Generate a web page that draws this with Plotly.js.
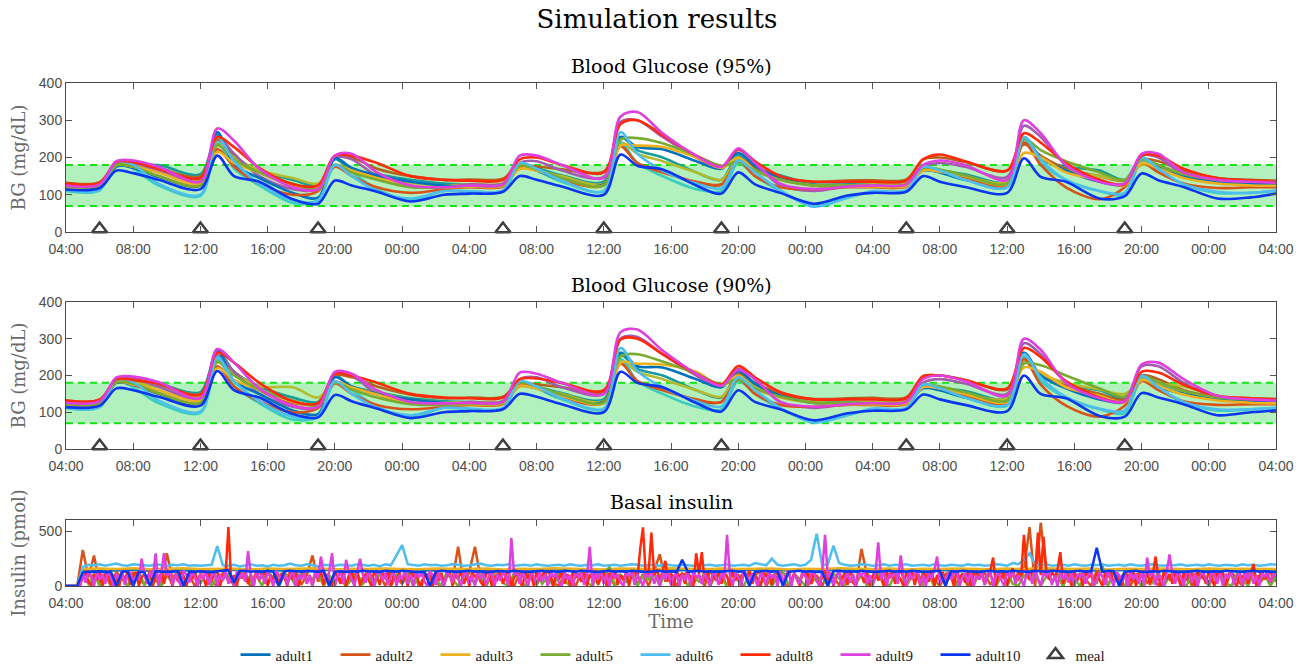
<!DOCTYPE html>
<html><head><meta charset="utf-8">
<script src="https://cdn.plot.ly/plotly-3.0.1.min.js"></script>
<style>html,body{margin:0;padding:0;background:#fff}#chart{width:1306px;height:667px}</style>
</head><body><div id="chart"></div>
<script>
// ---------- time axis ----------
const tickHours = [0,4,8,12,16,20,24,28,32,36,40,44,48,52,56,60,64,68,72];
const tickLabels = ['04:00','08:00','12:00','16:00','20:00','00:00','04:00','08:00','12:00','16:00','20:00','00:00','04:00','08:00','12:00','16:00','20:00','00:00','04:00'];

// BG sample times (hours after 04:00 of day 1)
const bgHours = [0,2,3,4,5.5,8,9,10,11.5,13.5,15,16,17,18.5,20.5,22.5,
  24,26,27,28,29.5,32,33,34,35.5,37.5,39,40,41,42.5,44.5,46.5,
  48,50,51,52,53.5,56,57,58,59.5,61.5,63,64,65,66.5,68.5,70.5,72];

// meals
const mealHours = [2,8,15,26,32,39,50,56,63];
const targetRange = [70,180];

// ---------- Blood Glucose (95%) ----------
const bg95_teal   = [122,124,175,178,180,155,262,200,165,140,125,195,165,155,140,130, 128,130,182,172,152,135,255,220,200,160,140,205,170,152,128,128, 128,130,170,165,155,135,250,195,175,165,140,200,175,150,135,130,128];
const bg95_brown  = [132,134,185,185,172,150,248,205,160,128,125,205,200,170,150,140, 141,143,178,176,168,162,230,185,165,132,127,195,175,145,135,138, 139,141,195,200,188,165,235,205,170,150,138,195,190,165,145,140,138];
const bg95_olive  = [126,128,182,178,165,140,230,200,165,145,130,178,165,150,132,125, 128,130,170,165,150,130,240,210,190,160,140,195,165,140,125,125, 128,130,168,165,150,135,240,200,165,150,140,180,170,150,135,130,128];
const bg95_purple = [125,128,183,185,165,135,255,210,150,115,115,200,195,150,122,120, 128,130,185,190,165,148,295,300,255,200,170,220,185,125,110,122, 124,126,175,185,175,148,285,255,180,138,130,205,200,155,138,130,130];
const bg95_turq   = [110,112,185,170,125,97,240,170,125,78,85,180,160,115,85,110, 108,110,180,165,135,110,240,185,150,115,110,185,150,110,72,92, 108,110,175,160,140,120,250,185,140,110,100,190,165,128,105,105,110];
const bg95_adult1 = [118,120,178,172,148,125,268,180,145,105,92,198,172,152,135,125, 122,124,172,165,140,128,255,228,222,190,170,212,178,145,125,122, 122,124,165,160,140,128,255,200,165,135,128,200,170,150,135,130,128];
const bg95_adult2 = [125,128,180,175,150,125,222,175,130,100,110,175,150,120,105,115, 120,122,175,168,140,125,230,185,160,135,128,190,150,120,115,120, 120,122,170,165,145,125,240,180,120,88,120,185,160,130,118,120,120];
const bg95_adult3 = [120,124,180,175,160,130,215,185,160,125,120,180,165,145,125,120, 122,124,170,165,145,125,232,232,228,200,172,200,165,140,125,122, 122,124,165,162,150,128,212,200,160,140,125,185,170,145,130,125,124];
const bg95_adult5 = [122,125,180,175,150,125,235,195,160,130,115,180,160,140,120,120, 124,126,178,168,145,125,248,252,238,205,178,188,165,140,125,125, 125,128,172,168,152,130,250,220,190,160,140,195,180,155,140,135,135];
const bg95_adult6 = [112,114,190,180,130,100,255,190,130,85,85,180,150,110,90,110, 110,112,185,170,138,110,268,210,165,130,118,192,160,112,68,92, 110,112,175,165,140,120,255,195,140,110,105,200,170,128,108,105,112];
const bg95_adult8 = [130,132,188,188,170,145,255,228,172,128,125,205,205,185,150,140, 138,140,195,200,180,160,290,300,260,205,175,222,190,150,135,135, 135,138,195,208,190,165,265,240,185,140,128,205,205,170,145,138,135];
const bg95_adult9 = [125,128,190,192,175,135,278,245,170,120,115,205,210,160,125,120, 125,128,205,205,180,145,310,322,265,205,175,225,185,130,115,122, 125,128,180,192,180,140,300,265,180,135,130,210,210,160,140,135,132];
const bg95_adult10= [114,118,165,158,140,115,205,150,135,88,76,138,125,108,82,100, 103,108,150,140,122,100,208,178,168,125,103,160,128,105,76,98, 105,108,150,135,121,105,198,148,135,90,96,157,139,121,90,93,103];

// ---------- Blood Glucose (90%) ----------
const bg90_teal   = [122,124,188,185,178,155,268,210,170,140,128,200,170,155,138,130, 128,130,182,170,152,135,255,218,200,160,140,205,170,152,130,128, 128,130,172,165,158,138,262,200,175,160,138,198,175,150,135,130,128];
const bg90_brown  = [132,134,188,185,175,150,245,210,160,125,125,200,195,170,148,138, 140,142,180,176,168,155,235,185,165,132,128,205,180,150,136,138, 139,141,198,200,188,162,240,205,175,150,135,200,190,160,142,138,136];
const bg90_olive  = [126,128,182,180,168,142,235,205,170,168,140,182,168,152,135,126, 128,130,170,165,150,130,240,210,190,160,142,195,168,142,128,126, 128,130,170,166,152,138,240,205,180,162,150,185,178,170,145,132,130];
const bg90_purple = [126,129,188,192,170,138,255,210,150,115,112,205,200,150,125,122, 128,130,190,195,168,150,300,305,258,200,170,218,190,128,112,122, 124,126,180,190,178,150,288,258,182,140,132,225,225,180,140,132,130];
const bg90_turq   = [112,114,185,168,125,98,245,172,125,80,88,180,160,115,88,112, 108,110,180,165,135,108,245,185,150,115,108,185,150,110,74,92, 108,110,175,160,140,118,250,185,140,108,98,190,165,125,105,108,112];
const bg90_adult1 = [118,120,180,175,150,126,270,185,150,105,95,195,170,150,135,125, 122,124,172,165,140,128,262,225,222,190,168,212,178,145,125,122, 122,124,165,160,140,128,262,200,165,135,128,200,170,150,135,130,128];
const bg90_adult2 = [125,128,182,175,152,125,225,170,130,100,112,178,150,120,108,115, 120,122,175,168,140,125,232,185,160,135,128,190,150,120,115,120, 120,122,170,165,145,125,245,175,118,88,118,185,160,130,120,122,122];
const bg90_adult3 = [120,124,182,176,160,132,220,188,162,128,122,182,168,148,126,120, 122,124,172,165,145,125,235,232,230,210,172,200,165,140,126,122, 122,124,168,165,150,128,222,210,168,145,128,188,172,148,132,126,124];
const bg90_adult5 = [122,125,182,178,152,126,238,200,162,132,118,180,162,140,122,120, 124,126,180,170,148,126,252,258,238,205,176,190,165,142,126,125, 125,128,175,170,155,132,232,228,200,165,142,198,182,158,140,135,135];
const bg90_adult6 = [112,114,190,182,132,102,250,185,130,88,88,185,150,112,92,112, 110,112,185,170,138,110,275,212,168,130,116,195,160,112,72,92, 110,112,175,165,140,120,258,195,142,110,105,200,168,128,108,108,112];
const bg90_adult8 = [132,134,190,188,178,148,262,235,180,130,125,205,200,180,150,140, 138,140,190,192,180,160,298,300,258,205,176,226,195,155,135,135, 135,138,198,200,188,165,275,250,185,140,130,210,208,175,145,138,135];
const bg90_adult9 = [126,130,195,197,182,138,272,235,165,118,115,210,205,160,128,124, 126,129,208,205,180,150,318,325,268,205,172,215,190,128,115,122, 125,128,190,200,185,145,300,270,180,138,130,230,235,190,145,135,132];
const bg90_adult10= [114,118,165,160,142,118,212,160,140,95,86,147,130,110,84,100, 103,108,150,142,122,100,210,180,168,125,102,160,128,108,78,97, 104,108,148,135,120,103,200,150,138,90,88,152,140,122,92,100,105];

// ---------- Basal insulin (pmol) ----------
const insStepHours = 1/3;      // 20-minute samples
const insFineStepHours = 1/6;  // 10-minute samples (adult8, adult9)
const insHourlyStart = 1;      // hourly samples for adult1 / adult3 start at 05:00
const ins_adult1 = [140,145,142,148,140,146,143,145,140,148,144,142,146,140,145,148,142,144,140,146,143,145,141,147,142,145,140,148,143,146,141,145,142,147,140,144,146,142,145,140,148,143,145,141,146,142,144,147,140,145,143,146,141,145,148,142,144,140,146,143,145,141,147,142,145,140,144,146,142,145,143,144];
const ins_adult3 = [155,160,157,162,154,159,163,156,160,158,153,161,156,159,163,152,158,155,161,157,153,160,158,155,161,152,158,156,162,158,155,151,160,158,155,162,158,153,160,155,158,161,152,158,155,162,158,155,160,152,158,155,161,158,153,160,155,162,158,155,160,152,158,155,161,158,153,160,155,158,160,156];
const ins_adult2 = [0,0,0,330,80,280,20,110,0,130, 60,0,120,90,10,140,50,0,300,70, 130,20,100,0,110,140,40,0,120,80, 10,130,60,0,140,100,20,90,0,120,
 70,140,10,100,280,40,130,0,110,60, 0,120,90,20,140,50,110,0,130,70, 20,100,140,0,90,120,30,0,110,60, 360,20,130,360,70,0,110,140,40,90,
 0,120,60,130,10,100,140,30,0,110, 80,0,130,50,120,10,140,90,0,100, 60,130,20,110,0,140,290,40,120,0, 90,130,20,100,0,140,60,110,0,120,
 50,130,10,100,140,0,90,120,30,0, 110,60,140,20,100,0,130,80,10,120, 60,0,340,100,20,130,0,110,70,140, 0,90,120,30,140,60,0,110,130,20,
 100,0,140,70,120,10,90,130,0,110, 60,140,540,0,580,120,40,100,0,130, 20,110,60,0,140,90,10,120,50,130, 0,100,140,30,90,0,120,60,130,10,
 110,0,140,70,20,120,90,0,130,60, 0,110,140,20,90,120,40];
const ins_adult5 = [0,0,0,90,20,110,0,70,120,30, 100,0,80,130,10,60,110,0,90,40, 120,0,70,100,20,130,0,90,60,110, 0,80,120,30,100,0,150,60,10,110,
 90,0,120,40,70,110,0,100,30,130, 0,60,110,20,90,0,120,70,0,100, 40,120,0,90,110,20,70,0,130,60, 0,100,80,20,120,0,90,110,30,0,
 120,60,0,100,140,20,80,0,110,50, 0,90,120,30,0,110,70,180,0,100, 40,120,0,90,60,110,0,130,20,80, 110,0,90,40,120,0,100,70,0,130,
 60,0,110,90,20,120,0,80,130,10, 100,60,0,120,40,90,0,110,70,0, 130,20,100,0,90,120,30,0,110,60, 0,120,80,10,100,0,130,50,90,0,
 110,40,0,120,70,100,0,90,130,20, 0,100,60,120,0,90,40,110,0,130, 70,0,100,120,20,190,0,110,60,0, 120,80,0,100,30,130,0,90,110,20,
 0,120,60,100,0,90,130,30,0,110, 80,0,120,60,100,0,90];
const ins_adult6 = [0,0,0,175,195,190,200,185,195,205, 190,185,200,195,190,185,200,190,185,195, 190,200,185,190,185,190,195,365,190,185, 195,180,190,200,185,190,180,195,185,190,
 205,190,185,200,190,180,195,190,185,195, 190,185,200,190,185,195,180,200,190,280, 375,200,190,185,200,190,195,185,190,200, 195,185,190,200,205,190,185,195,190,200,
 185,190,195,185,200,190,185,190,195,185, 200,190,185,195,190,200,185,190,195,185, 190,200,195,185,190,195,185,200,190,185, 195,190,185,200,190,195,185,190,200,185,
 190,195,185,210,200,190,250,195,185,190, 200,185,195,240,480,190,200,370,210,195, 185,190,200,195,185,190,200,185,195,190, 200,185,190,195,185,200,190,185,195,190,
 185,200,190,195,185,190,200,195,185,210, 200,240,300,195,190,200,185,190,195,185, 200,190,185,195,190,200,185,190,195,185, 200,190,185,195,200,190,185,195,190,200,
 185,190,195,185,200,190,185,195,190,185, 200,190,195,185,190,200,195];
const ins_adult8 = [0,0,0,0,0,0,80,120,40,0, 110,60,130,0,90,140,20,100,70,0, 120,50,140,10,90,130,0,80,110,30, 140,0,100,60,120,20,150,70,0,110,
 40,130,90,0,120,60,140,10,100,80, 0,130,50,110,140,0,90,120,540,30, 100,0,140,70,120,20,110,0,130,60, 90,140,0,100,50,130,10,120,80,0,
 140,60,110,0,90,130,30,100,0,120, 70,140,10,110,50,0,130,90,20,140, 0,100,120,40,140,0,80,110,60,0, 130,90,10,120,70,140,0,100,50,130,
 20,110,0,140,80,120,30,0,130,60, 100,0,140,50,120,10,90,130,0,110, 60,140,20,100,0,130,80,120,40,0, 110,140,0,90,60,130,20,100,140,0,
 80,120,30,0,140,70,110,0,130,50, 100,140,10,90,0,120,60,130,20,110, 0,140,80,100,40,130,0,110,60,140, 20,90,130,0,120,70,140,10,100,50,
 130,0,110,140,60,340,537,90,120,490, 100,150,60,130,230,40,110,0,140,80, 120,20,130,70,0,300,110,310,40,140, 0,100,60,130,20,120,90,0,140,50,
 110,0,130,80,140,20,100,60,0,120, 90,140,10,110,50,130,0,100,140,30, 120,60,0,140,90,110,20,130,70,0, 100,140,40,120,0,90,130,60,110,10,
 140,80,0,120,100,30,130,0,90,140, 50,110,0,130,70,140,20,100,60,0, 120,90,140,10,110,0,130,80,40,140, 0,100,60,130,20,120,90,0,140,70,
 110,30,130,0,100,140,60,120,10,90, 140,260,0,110,70,130,20,100,160,40, 130,90,470,150,60,140,120,490,100,450, 140,60,130,80,150,310,20,120,90,0,
 130,50,110,0,140,80,100,20,130,60, 0,120,90,140,10,110,60,0,130,100, 40,140,0,90,120,60,130,10,100,270, 80,0,140,60,110,20,130,90,0,120,
 50,140,100,0,130,70,110,20,140,60, 0,120,90,130,10,100,140,40,0,110, 70,130,20,120,200,0,90,140,60,110, 30,130,80];
const ins_adult9 = [0,0,0,0,0,0,120,30,140,90, 0,130,60,110,20,140,80,0,120,50, 140,10,100,130,0,90,60,250,110,20, 130,70,300,0,120,300,90,140,10,110,
 60,0,140,100,30,130,80,0,120,60, 140,10,90,130,0,110,50,140,20,100, 0,130,70,120,40,320,90,0,140,60, 110,20,130,80,0,140,100,50,120,10,
 90,140,0,110,60,130,20,100,0,140, 70,270,110,40,130,300,0,90,140,20, 240,120,60,0,130,250,100,30,140,80, 0,110,140,50,120,10,90,130,0,100,
 60,140,20,110,0,130,80,120,40,0, 140,90,10,120,60,0,130,100,30,140, 70,0,110,130,20,100,0,140,60,120, 10,90,140,0,110,50,130,80,0,440,
 100,130,20,140,60,0,120,90,10,130, 40,110,0,140,80,120,30,0,130,60, 100,0,140,70,120,10,90,360,0,130, 60,140,20,110,0,130,80,100,40,0,
 130,90,140,10,110,60,0,120,80,140, 20,100,0,130,60,140,10,90,120,0, 110,50,130,0,140,80,100,20,120,60, 0,140,90,10,130,60,470,110,0,120,
 80,0,140,100,30,120,60,0,130,90, 10,140,70,110,0,130,40,100,140,0, 120,60,20,140,90,0,110,130,50,0, 140,470,80,120,10,100,130,0,60,140,
 30,110,0,130,90,140,20,100,0,120, 400,60,130,0,110,80,140,20,280,90, 0,130,60,110,140,10,100,0,120,70, 140,270,20,90,0,130,60,110,140,0,
 80,120,30,140,0,100,60,130,10,110, 140,0,90,120,50,0,130,80,140,20, 100,60,0,130,110,20,140,70,0,120, 90,140,10,100,0,130,60,120,30,140,
 0,110,80,130,20,100,140,0,60,120, 90,10,140,70,0,130,100,40,120,0, 140,60,110,20,130,0,260,90,140,10, 120,50,0,130,290,100,20,140,80,0,
 110,140,30,120,0,90,130,60,0,140, 100,20,130,0,110,70,140,10,90,120, 0,130,60,140,20,100,0,120,80,140, 30,110,90];
const ins_adult10 = [0,0,0,125,130,128,135,125,130,0, 130,135,0,130,125,0,135,130,128,130, 135,0,130,128,135,130,125,135,140,145, 30,140,138,130,135,128,140,130,0,135,
 140,135,130,138,135,130,140,0,130,135, 128,135,130,140,135,130,128,140,135,130, 140,135,130,125,130,0,130,140,135,130, 128,135,140,130,135,125,130,138,135,130,
 140,135,128,130,135,140,130,135,128,140, 135,130,140,135,130,128,135,140,130,135, 130,140,135,128,130,135,140,130,135,128, 240,130,135,140,130,135,128,130,135,140,
 130,135,0,130,135,140,130,135,0,130, 135,140,130,135,128,130,0,135,140,130, 135,130,140,135,128,130,135,140,130,135, 130,140,135,128,130,135,140,0,135,130,
 140,135,130,128,135,140,130,135,130,140, 135,130,128,140,135,130,140,135,130,128, 135,140,130,135,350,130,140,135,0,130, 135,140,130,128,135,130,140,135,130,125,
 130,135,140,130,128,135,130,140,135,130, 128,135,140,130,135,130,128];

// ---------- styling ----------
const SERIF = '"DejaVu Serif", "Liberation Serif", serif';
const LEGSERIF = '"Liberation Serif", "DejaVu Serif", serif';
const SANS = '"Liberation Sans", Arial, sans-serif';
const C = {
  adult1:'#0072BD', adult2:'#D95319', adult3:'#EDB120', adult5:'#77AC30', adult6:'#4DBEEE',
  adult8:'#FF2a0a', adult9:'#DE3FDE', adult10:'#0a36f0',
  teal:'#169c9c', brown:'#b4621c', olive:'#b4bb2c', purple:'#a25cae', turq:'#38cdbf'
};

const insFast = ins_adult2.map((_, i) => i * insStepHours);
const insFine = ins_adult8.map((_, i) => i * insFineStepHours);
const insHourly = ins_adult1.map((_, i) => i + insHourlyStart);

const traces = [];
function bgSet(prefix, xa, ya, legend) {
  const order = ['teal','brown','olive','purple','turq','adult1','adult2','adult3','adult5','adult6','adult8','adult9','adult10'];
  const data = prefix === 95 ?
    {teal:bg95_teal,brown:bg95_brown,olive:bg95_olive,purple:bg95_purple,turq:bg95_turq,adult1:bg95_adult1,adult2:bg95_adult2,adult3:bg95_adult3,adult5:bg95_adult5,adult6:bg95_adult6,adult8:bg95_adult8,adult9:bg95_adult9,adult10:bg95_adult10} :
    {teal:bg90_teal,brown:bg90_brown,olive:bg90_olive,purple:bg90_purple,turq:bg90_turq,adult1:bg90_adult1,adult2:bg90_adult2,adult3:bg90_adult3,adult5:bg90_adult5,adult6:bg90_adult6,adult8:bg90_adult8,adult9:bg90_adult9,adult10:bg90_adult10};
  order.forEach((k, idx) => {
    const isAdult = k.startsWith('adult');
    traces.push({
      type:'scatter', mode:'lines', x:bgHours, y:data[k], xaxis:xa, yaxis:ya,
      name:k, legendgroup:k, showlegend: legend && isAdult,
      legendrank: isAdult ? 100 + idx : 999,
      line:{color:C[k], width:2.6, shape:'spline', smoothing:0.9},
      hoverinfo:'skip'
    });
  });
  traces.push({
    type:'scatter', mode:'markers', x:mealHours, y:mealHours.map(() => 8), xaxis:xa, yaxis:ya,
    name:'meal', legendgroup:'meal', showlegend:legend, legendrank:200, cliponaxis:false,
    marker:{symbol:'triangle-up-open', size:13, color:'#3d3d3d', line:{width:2.5, color:'#3d3d3d'}},
    hoverinfo:'skip'
  });
}
bgSet(95, 'x', 'y', true);
bgSet(90, 'x2', 'y2', false);

const insSeries = [
  ['adult1', insHourly, ins_adult1], ['adult2', insFast, ins_adult2], ['adult3', insHourly, ins_adult3],
  ['adult5', insFast, ins_adult5], ['adult6', insFast, ins_adult6], ['adult8', insFine, ins_adult8],
  ['adult9', insFine, ins_adult9], ['adult10', insFast, ins_adult10]
];
insSeries.forEach(([k, xs, ys]) => {
  traces.push({type:'scatter', mode:'lines', x:xs, y:ys, xaxis:'x3', yaxis:'y3', name:k, legendgroup:k,
    showlegend:false, line:{color:C[k], width:2.5}, hoverinfo:'skip'});
});

const axisLine = {showline:true, linecolor:'#4a4a4a', linewidth:1, mirror:'ticks', ticks:'inside', ticklen:6,
  tickwidth:1, tickcolor:'#555', showgrid:false, zeroline:false,
  tickfont:{family:SANS, size:14, color:'#4d4d4d'}};
function xAxis(anchor, extra) {
  return Object.assign({}, axisLine, {anchor, domain:[0,1], range:[0,72], tickmode:'array', tickvals:tickHours, ticktext:tickLabels, ticklabelstandoff:4}, extra || {});
}
const yTitle = (t) => ({text:t, font:{family:SERIF, size:18, color:'#6a6a6a'}, standoff:8});

// band shapes built from targetRange
const shapes = [];
[['x','y'],['x2','y2']].forEach(([xr, yr]) => {
  shapes.push({type:'rect', xref:xr, yref:yr, x0:tickHours[0], x1:tickHours[tickHours.length-1], y0:targetRange[0], y1:targetRange[1],
    fillcolor:'rgb(178,240,190)', line:{width:0}, layer:'below'});
  targetRange.forEach(v => shapes.push({type:'line', xref:xr, yref:yr, x0:tickHours[0], x1:tickHours[tickHours.length-1], y0:v, y1:v,
    line:{color:'rgb(20,225,20)', width:2, dash:'7px,5px'}, layer:'below'}));
});

const layout = {
  width:1306, height:667, paper_bgcolor:'#fff', plot_bgcolor:'#fff',
  margin:{l:66, r:30, t:83, b:81, autoexpand:false},
  title:{text:'Simulation results', font:{family:SERIF, size:26, color:'#000'}, x:0.503, xanchor:'center', y:0.9715, yanchor:'middle'},
  xaxis: xAxis('y'),
  xaxis2: xAxis('y2'),
  xaxis3: xAxis('y3', {title:{text:'Time', font:{family:SERIF, size:18, color:'#6a6a6a'}, standoff:4}}),
  yaxis: Object.assign({}, axisLine, {domain:[0.7038,1], anchor:'x', range:[0,400], tickvals:[0,100,200,300,400], title:yTitle('BG (mg/dL)')}),
  yaxis2: Object.assign({}, axisLine, {domain:[0.2724,0.5646], anchor:'x2', range:[0,400], tickvals:[0,100,200,300,400], title:yTitle('BG (mg/dL)')}),
  yaxis3: Object.assign({}, axisLine, {domain:[0,0.1312], anchor:'x3', range:[0,605], tickvals:[0,500], title:yTitle('Insulin (pmol)')}),
  shapes,
  annotations:[
    {text:'Blood Glucose (95%)', xref:'paper', yref:'paper', x:0.5, y:1.034, xanchor:'center', yanchor:'middle', showarrow:false, font:{family:SERIF, size:19, color:'#000'}},
    {text:'Blood Glucose (90%)', xref:'paper', yref:'paper', x:0.5, y:0.598, xanchor:'center', yanchor:'middle', showarrow:false, font:{family:SERIF, size:19, color:'#000'}},
    {text:'Basal insulin', xref:'paper', yref:'paper', x:0.5, y:0.167, xanchor:'center', yanchor:'middle', showarrow:false, font:{family:SERIF, size:19, color:'#000'}}
  ],
  showlegend:true,
  legend:{orientation:'h', x:0.512, xanchor:'center', y:-0.137, yanchor:'middle', font:{family:LEGSERIF, size:15, color:'#222'},
    itemwidth:30, entrywidth:55, entrywidthmode:'pixels', bgcolor:'rgba(0,0,0,0)'},
  hovermode:false
};

Plotly.newPlot('chart', traces, layout, {displayModeBar:false, staticPlot:true});
</script>
</body></html>
